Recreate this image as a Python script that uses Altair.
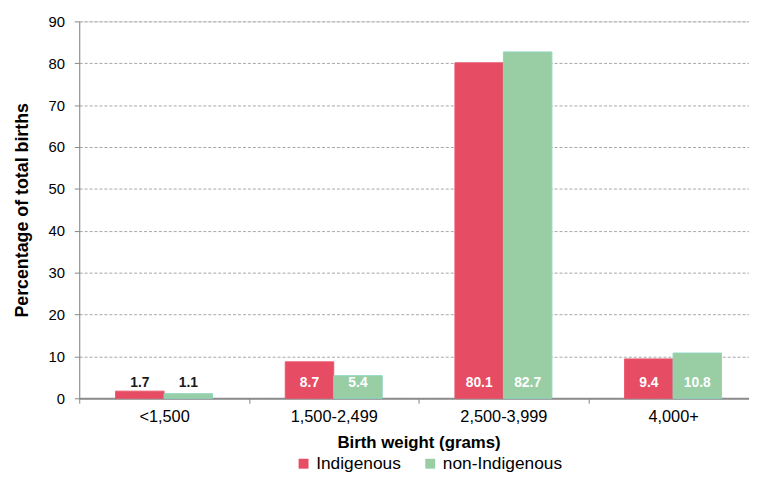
import altair as alt
import pandas as pd

categories = ["<1,500", "1,500-2,499", "2,500-3,999", "4,000+"]
series = ["Indigenous", "non-Indigenous"]
indigenous = [1.7, 8.7, 80.1, 9.4]
non_indigenous = [1.1, 5.4, 82.7, 10.8]
colors = ["#E64C64", "#99CEA5"]

rows = []
for i, (c, a, b) in enumerate(zip(categories, indigenous, non_indigenous)):
    rows.append({"cat": c, "idx": i, "group": series[0], "value": a})
    rows.append({"cat": c, "idx": i, "group": series[1], "value": b})
df = pd.DataFrame(rows)

FONT = "Liberation Sans"
W = 677
H = 381
STEP = 171.5            # pixel width of one category band in the original
X_MAX = W / STEP        # the original chart is cropped at the right edge

label_js = "[" + ",".join("'" + c + "'" for c in categories) + "]"

x_scale = alt.Scale(domain=[0, X_MAX], nice=False, zero=False)
y_scale = alt.Scale(domain=[0, 90], nice=False, padding=0)

x_axis = alt.Axis(
    title="Birth weight (grams)",
    values=[0, 0.5, 1, 1.5, 2, 2.5, 3, 3.5],
    labelExpr=f"datum.value % 1 == 0.5 ? {label_js}[floor(datum.value)] : ''",
    labelAngle=0,
    labelOverlap=False,
    labelFlush=False,
    labelFontSize=16.5,
    labelFont=FONT,
    labelColor="#000000",
    labelPadding=5,
    tickSize=5,
    tickColor="#868686",
    tickOpacity={"condition": {"test": "datum.value % 1 != 0", "value": 0}, "value": 1},
    domainColor="#8C8C8C",
    domainWidth=2,
    titleFont=FONT,
    titleFontSize=17,
    titleFontWeight="bold",
    titleColor="#000000",
    titlePadding=10,
    titleX=343,
    grid=False,
)

y_axis = alt.Axis(
    title="Percentage of total births",
    values=list(range(0, 91, 10)),
    labelFontSize=15,
    labelFont=FONT,
    labelColor="#000000",
    labelPadding=10,
    tickSize=5,
    tickColor="#868686",
    domainColor="#868686",
    gridColor="#A6A6A6",
    gridDash=[3, 2],
    gridWidth=1,
    titleFont=FONT,
    titleFontSize=18,
    titleFontWeight="bold",
    titleColor="#000000",
    titlePadding=17,
)

base = alt.Chart(df).transform_calculate(
    x0=f"datum.idx + (datum.group == '{series[0]}' ? 0.2143 : 0.5)",
).transform_calculate(
    x1="datum.x0 + 0.2857",
    xm="datum.x0 + 0.14285",
    dark="datum.value < 3 ? 'dark' : 'light'",
)

bars = base.mark_bar(strokeWidth=1).encode(
    x=alt.X("x0:Q", scale=x_scale, axis=x_axis),
    x2="x1:Q",
    y=alt.Y("value:Q", scale=y_scale, axis=y_axis),
    y2=alt.Y2Datum(0),
    color=alt.Color(
        "group:N",
        sort=series,
        scale=alt.Scale(domain=series, range=colors),
        legend=alt.Legend(
            title=None,
            orient="none",
            legendX=218,
            legendY=438,
            direction="horizontal",
            symbolType="square",
            symbolSize=100,
            symbolStrokeWidth=0,
            labelFontSize=17.5,
            labelFont=FONT,
            labelColor="#000000",
            labelOffset=4,
            columnPadding=20,
        ),
    ),
    stroke=alt.Stroke(
        "group:N",
        sort=series,
        scale=alt.Scale(domain=series, range=["#E8566C", "#8FD6C0"]),
        legend=None,
    ),
)

labels = base.mark_text(
    font=FONT, fontSize=14, fontWeight="bold", baseline="middle", dy=-15
).encode(
    x=alt.X("xm:Q", scale=x_scale, axis=x_axis),
    y=alt.YDatum(0, scale=y_scale, axis=y_axis),
    text=alt.Text("value:Q", format=".1f"),
    color=alt.Color(
        "dark:N",
        scale=alt.Scale(domain=["dark", "light"], range=["#1A1A1A", "#FFFFFF"]),
        legend=None,
    ),
)

chart = (
    alt.layer(bars, labels)
    .resolve_scale(color="independent")
    .properties(
        width=W,
        height=H,
        autosize=alt.AutoSizeParams(type="none"),
        padding={"top": 11, "left": 72, "right": 0, "bottom": 72},
    )
    .configure_view(strokeWidth=0, stroke="transparent")
    .configure(background="#FFFFFF")
)

chart.save("out.html", embed_options={"renderer": "svg", "actions": False})
